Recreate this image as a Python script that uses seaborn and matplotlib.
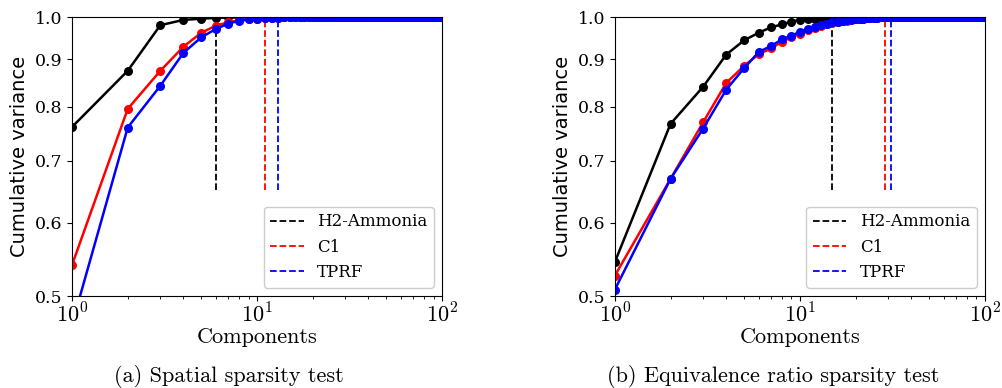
import matplotlib
matplotlib.use("Agg")
import matplotlib.pyplot as plt
import matplotlib.ticker as mticker
import numpy as np
import pandas as pd
import seaborn as sns

# Number of retained components (x axis)
components = list(range(1, 101))

# (a) Spatial sparsity test: cumulative explained variance
h2_ammonia_a = [
    0.761, 0.875, 0.980, 0.993, 0.996, 0.998, 0.999, 0.999, 0.9995, 0.9997,
    1.0, 1.0, 1.0, 1.0, 1.0, 1.0, 1.0, 1.0, 1.0, 1.0,
    1.0, 1.0, 1.0, 1.0, 1.0, 1.0, 1.0, 1.0, 1.0, 1.0,
    1.0, 1.0, 1.0, 1.0, 1.0, 1.0, 1.0, 1.0, 1.0, 1.0,
    1.0, 1.0, 1.0, 1.0, 1.0, 1.0, 1.0, 1.0, 1.0, 1.0,
    1.0, 1.0, 1.0, 1.0, 1.0, 1.0, 1.0, 1.0, 1.0, 1.0,
    1.0, 1.0, 1.0, 1.0, 1.0, 1.0, 1.0, 1.0, 1.0, 1.0,
    1.0, 1.0, 1.0, 1.0, 1.0, 1.0, 1.0, 1.0, 1.0, 1.0,
    1.0, 1.0, 1.0, 1.0, 1.0, 1.0, 1.0, 1.0, 1.0, 1.0,
    1.0, 1.0, 1.0, 1.0, 1.0, 1.0, 1.0, 1.0, 1.0, 1.0,
]
c1_a = [
    0.540, 0.796, 0.875, 0.929, 0.962, 0.979, 0.987, 0.992, 0.994, 0.996,
    0.997, 0.998, 0.9985, 0.999, 0.9993, 0.9995, 0.9997, 0.9998, 0.9999, 1.0,
    1.0, 1.0, 1.0, 1.0, 1.0, 1.0, 1.0, 1.0, 1.0, 1.0,
    1.0, 1.0, 1.0, 1.0, 1.0, 1.0, 1.0, 1.0, 1.0, 1.0,
    1.0, 1.0, 1.0, 1.0, 1.0, 1.0, 1.0, 1.0, 1.0, 1.0,
    1.0, 1.0, 1.0, 1.0, 1.0, 1.0, 1.0, 1.0, 1.0, 1.0,
    1.0, 1.0, 1.0, 1.0, 1.0, 1.0, 1.0, 1.0, 1.0, 1.0,
    1.0, 1.0, 1.0, 1.0, 1.0, 1.0, 1.0, 1.0, 1.0, 1.0,
    1.0, 1.0, 1.0, 1.0, 1.0, 1.0, 1.0, 1.0, 1.0, 1.0,
    1.0, 1.0, 1.0, 1.0, 1.0, 1.0, 1.0, 1.0, 1.0, 1.0,
]
tprf_a = [
    0.466, 0.760, 0.843, 0.915, 0.951, 0.971, 0.984, 0.991, 0.994, 0.996,
    0.997, 0.998, 0.9985, 0.999, 0.9993, 0.9995, 0.9997, 0.9998, 0.9999, 1.0,
    1.0, 1.0, 1.0, 1.0, 1.0, 1.0, 1.0, 1.0, 1.0, 1.0,
    1.0, 1.0, 1.0, 1.0, 1.0, 1.0, 1.0, 1.0, 1.0, 1.0,
    1.0, 1.0, 1.0, 1.0, 1.0, 1.0, 1.0, 1.0, 1.0, 1.0,
    1.0, 1.0, 1.0, 1.0, 1.0, 1.0, 1.0, 1.0, 1.0, 1.0,
    1.0, 1.0, 1.0, 1.0, 1.0, 1.0, 1.0, 1.0, 1.0, 1.0,
    1.0, 1.0, 1.0, 1.0, 1.0, 1.0, 1.0, 1.0, 1.0, 1.0,
    1.0, 1.0, 1.0, 1.0, 1.0, 1.0, 1.0, 1.0, 1.0, 1.0,
    1.0, 1.0, 1.0, 1.0, 1.0, 1.0, 1.0, 1.0, 1.0, 1.0,
]

# (b) Equivalence ratio sparsity test
h2_ammonia_b = [
    0.544, 0.767, 0.841, 0.911, 0.944, 0.962, 0.975, 0.982, 0.989, 0.993,
    0.995, 0.996, 0.997, 0.998, 0.999, 0.9993, 0.9995, 0.9997, 0.9998, 0.9999,
    1.0, 1.0, 1.0, 1.0, 1.0, 1.0, 1.0, 1.0, 1.0, 1.0,
    1.0, 1.0, 1.0, 1.0, 1.0, 1.0, 1.0, 1.0, 1.0, 1.0,
    1.0, 1.0, 1.0, 1.0, 1.0, 1.0, 1.0, 1.0, 1.0, 1.0,
    1.0, 1.0, 1.0, 1.0, 1.0, 1.0, 1.0, 1.0, 1.0, 1.0,
    1.0, 1.0, 1.0, 1.0, 1.0, 1.0, 1.0, 1.0, 1.0, 1.0,
    1.0, 1.0, 1.0, 1.0, 1.0, 1.0, 1.0, 1.0, 1.0, 1.0,
    1.0, 1.0, 1.0, 1.0, 1.0, 1.0, 1.0, 1.0, 1.0, 1.0,
    1.0, 1.0, 1.0, 1.0, 1.0, 1.0, 1.0, 1.0, 1.0, 1.0,
]
c1_b = [
    0.526, 0.669, 0.770, 0.849, 0.886, 0.912, 0.925, 0.941, 0.951, 0.960,
    0.968, 0.974, 0.978, 0.982, 0.985, 0.988, 0.990, 0.991, 0.993, 0.994,
    0.995, 0.996, 0.997, 0.997, 0.998, 0.998, 0.999, 0.999, 0.999, 0.9995,
    0.9997, 0.9998, 0.9999, 1.0, 1.0, 1.0, 1.0, 1.0, 1.0, 1.0,
    1.0, 1.0, 1.0, 1.0, 1.0, 1.0, 1.0, 1.0, 1.0, 1.0,
    1.0, 1.0, 1.0, 1.0, 1.0, 1.0, 1.0, 1.0, 1.0, 1.0,
    1.0, 1.0, 1.0, 1.0, 1.0, 1.0, 1.0, 1.0, 1.0, 1.0,
    1.0, 1.0, 1.0, 1.0, 1.0, 1.0, 1.0, 1.0, 1.0, 1.0,
    1.0, 1.0, 1.0, 1.0, 1.0, 1.0, 1.0, 1.0, 1.0, 1.0,
    1.0, 1.0, 1.0, 1.0, 1.0, 1.0, 1.0, 1.0, 1.0, 1.0,
]
tprf_b = [
    0.508, 0.669, 0.758, 0.835, 0.881, 0.917, 0.931, 0.946, 0.955, 0.964,
    0.971, 0.976, 0.980, 0.984, 0.987, 0.989, 0.990, 0.992, 0.993, 0.994,
    0.995, 0.996, 0.997, 0.997, 0.998, 0.998, 0.999, 0.999, 0.999, 0.9995,
    0.9997, 0.9998, 0.9999, 1.0, 1.0, 1.0, 1.0, 1.0, 1.0, 1.0,
    1.0, 1.0, 1.0, 1.0, 1.0, 1.0, 1.0, 1.0, 1.0, 1.0,
    1.0, 1.0, 1.0, 1.0, 1.0, 1.0, 1.0, 1.0, 1.0, 1.0,
    1.0, 1.0, 1.0, 1.0, 1.0, 1.0, 1.0, 1.0, 1.0, 1.0,
    1.0, 1.0, 1.0, 1.0, 1.0, 1.0, 1.0, 1.0, 1.0, 1.0,
    1.0, 1.0, 1.0, 1.0, 1.0, 1.0, 1.0, 1.0, 1.0, 1.0,
    1.0, 1.0, 1.0, 1.0, 1.0, 1.0, 1.0, 1.0, 1.0, 1.0,
]

datasets = ["H2-Ammonia", "C1", "TPRF"]
colors = {"H2-Ammonia": "black", "C1": "red", "TPRF": "blue"}

# Components needed to reach the variance threshold
cutoffs_a = [6, 11, 13]
cutoffs_b = [15, 29, 31]
cutoff_line_bottom = 0.65

y_ticks = [0.5, 0.6, 0.7, 0.8, 0.9, 1.0]
y_tick_labels = ["0.5", "0.6", "0.7", "0.8", "0.9", "1.0"]
x_ticks = [1, 10, 100]
x_tick_labels = [r"$10^{0}$", r"$10^{1}$", r"$10^{2}$"]

captions = ["(a) Spatial sparsity test", "(b) Equivalence ratio sparsity test"]

plt.rcParams["mathtext.fontset"] = "cm"

panels = [
    (h2_ammonia_a, c1_a, tprf_a, cutoffs_a),
    (h2_ammonia_b, c1_b, tprf_b, cutoffs_b),
]

fig = plt.figure(figsize=(10.03, 3.88), dpi=100)
ax_left = [0.0718, 0.613]
ax_w = 0.369
ax_b = 0.237
ax_h = 0.719
caption_x = [0.228, 0.771]

for i, (h2, c1, tprf, cutoffs) in enumerate(panels):
    ax = fig.add_axes([ax_left[i], ax_b, ax_w, ax_h])
    df = pd.DataFrame({
        "Components": components * 3,
        "Variance": h2 + c1 + tprf,
        "Dataset": [d for d in datasets for _ in components],
    })

    # Threshold markers as dashed vertical lines (these carry the legend)
    for name, cut in zip(datasets, cutoffs):
        ax.plot([cut, cut], [cutoff_line_bottom, 1.0], linestyle="--",
                color=colors[name], linewidth=1.3, label=name, zorder=1)

    sns.lineplot(data=df, x="Components", y="Variance", hue="Dataset",
                 hue_order=datasets, palette=colors, marker="o",
                 markersize=6.5, markeredgewidth=0, linewidth=1.8,
                 legend=False, ax=ax, zorder=2)

    ax.set_xscale("log")
    ax.set_yscale("log")
    ax.set_xlim(1, 100)
    ax.set_ylim(0.5, 1.0)

    ax.yaxis.set_major_locator(mticker.FixedLocator(y_ticks))
    ax.yaxis.set_major_formatter(mticker.FixedFormatter(y_tick_labels))
    ax.yaxis.set_minor_locator(mticker.NullLocator())
    ax.xaxis.set_major_locator(mticker.FixedLocator(x_ticks))
    ax.xaxis.set_major_formatter(mticker.FixedFormatter(x_tick_labels))
    ax.xaxis.set_minor_locator(mticker.LogLocator(base=10, subs=np.arange(2, 10)))
    ax.xaxis.set_minor_formatter(mticker.NullFormatter())

    for lab in ax.get_yticklabels():
        lab.set_fontfamily("DejaVu Serif")
        lab.set_fontsize(12.5)
    for lab in ax.get_xticklabels():
        lab.set_fontsize(16)

    ax.tick_params(axis="x", which="major", pad=1)
    ax.set_xlabel("Components", fontfamily="cmr10", fontsize=16, labelpad=1)
    ax.set_ylabel("Cumulative variance", fontfamily="DejaVu Sans", fontsize=14,
                  labelpad=4)

    ax.legend(loc="lower right", prop={"family": "DejaVu Serif", "size": 12},
              handlelength=2.0, framealpha=1.0)

    fig.text(caption_x[i], 0.03, captions[i], ha="center",
             va="center", fontfamily="cmr10", fontsize=16)

fig.savefig("out.png", dpi=100)
